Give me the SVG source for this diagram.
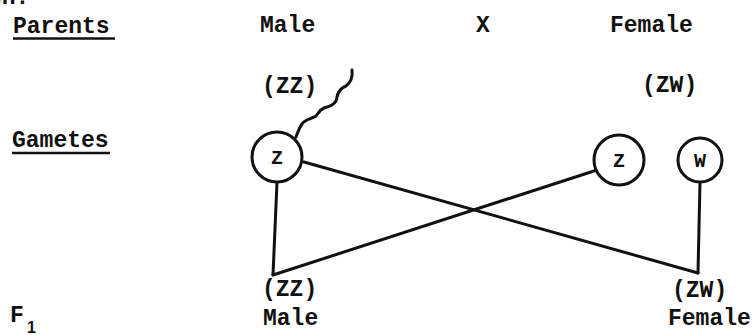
<svg xmlns="http://www.w3.org/2000/svg" width="756" height="335" viewBox="0 0 756 335">
  <style>
    .t { font-family: "Liberation Mono", "DejaVu Sans Mono", monospace; font-size: 23px; font-weight: bold; fill: #111; }
    .c { font-family: "Liberation Mono", "DejaVu Sans Mono", monospace; font-size: 20px; font-weight: bold; fill: #111; text-anchor: middle; }
    .u { stroke: #111; stroke-width: 2.5; }
    .g { fill: #fff; stroke: #111; stroke-width: 3; }
    .ln { stroke: #111; stroke-width: 3; fill: none; stroke-linecap: round; }
  </style>
  <rect width="756" height="335" fill="#fff"/>
  <text class="t" x="-12" y="4">wn:</text>
  <g id="labels">
    <text class="t" x="13" y="33">Parents</text>
    <line class="u" x1="13" y1="38.5" x2="115" y2="38.5"/>
    <text class="t" x="12" y="147">Gametes</text>
    <line class="u" x1="12" y1="153" x2="110" y2="153"/>
    <text class="t" x="10" y="322">F</text>
    <text x="27" y="333" style="font-family:'Liberation Sans',sans-serif;font-size:16px;font-weight:bold;fill:#111">1</text>
  </g>
  <g id="parent-male">
    <text class="t" x="260" y="32">Male</text>
    <text class="t" x="262" y="93">(ZZ)</text>
  </g>
  <g id="cross">
    <text class="t" x="476" y="32">X</text>
  </g>
  <g id="parent-female">
    <text class="t" x="610" y="32">Female</text>
    <text class="t" x="642" y="92">(ZW)</text>
  </g>
  <g id="connectors">
    <path class="ln" d="M277,182 L273,275"/>
    <path class="ln" d="M273,275 L597,170"/>
    <path class="ln" d="M304,162 L698,273"/>
    <path class="ln" d="M700,182 L698,273"/>
    <path class="ln" stroke-width="2.5" d="M352,70 C353,78 350,83 346,86 C341,88 338,92 337,97 C337,103 332,106 324,108 C319,110 318,114 316,116 C312,119 305,119 302,124 C299,128 298,132 296,137"/>
  </g>
  <g id="gamete-male-z">
    <circle class="g" cx="277" cy="157" r="25"/>
    <text class="c" x="277" y="164">Z</text>
  </g>
  <g id="gamete-female-z">
    <circle class="g" cx="619" cy="160" r="25"/>
    <text class="c" x="619" y="167">Z</text>
  </g>
  <g id="gamete-female-w">
    <circle class="g" cx="700" cy="160" r="22"/>
    <text class="c" x="700" y="167">W</text>
  </g>
  <g id="f1-male">
    <text class="t" x="262" y="296">(ZZ)</text>
    <text class="t" x="263" y="325">Male</text>
  </g>
  <g id="f1-female">
    <text class="t" x="672" y="297">(ZW)</text>
    <text class="t" x="668" y="325">Female</text>
  </g>
</svg>
